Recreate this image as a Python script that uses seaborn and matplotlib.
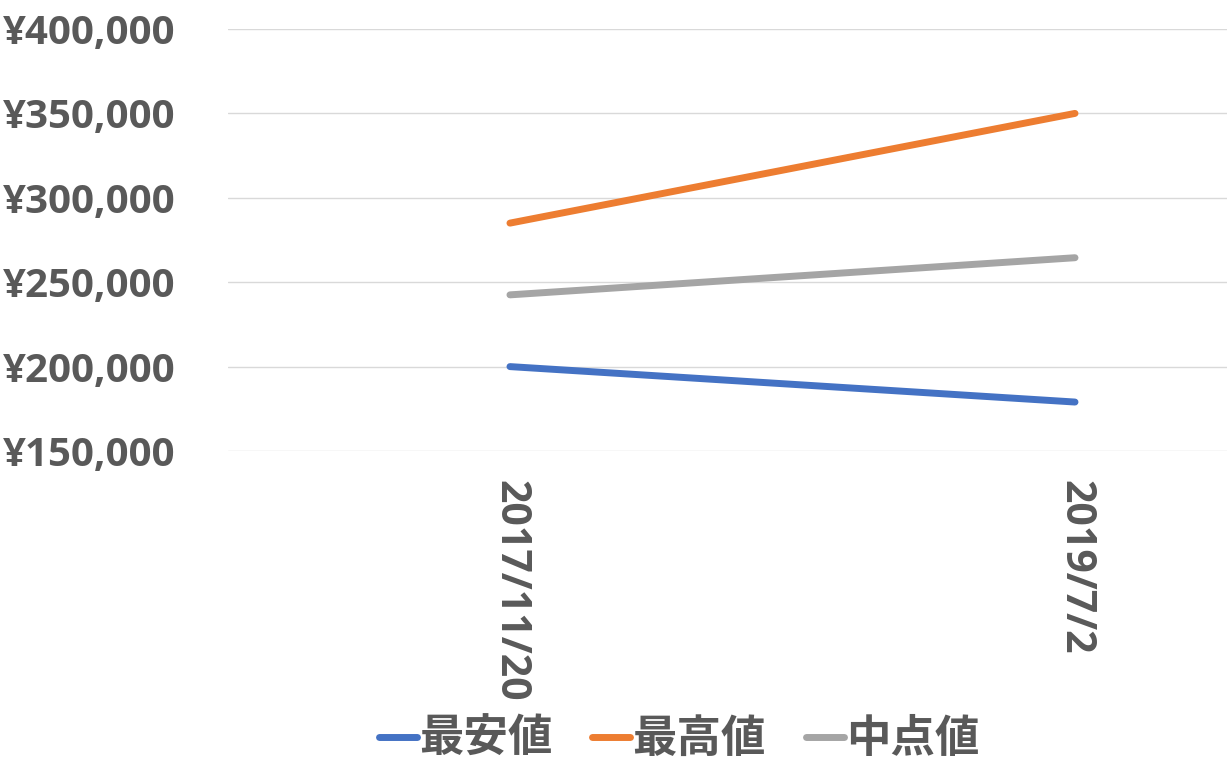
import matplotlib
matplotlib.use("Agg")
import matplotlib.pyplot as plt
import seaborn as sns
import pandas as pd

# データ
dates = ["2017/11/20", "2019/7/2"]
series_names = ["最安値", "最高値", "中点値"]
low_values = [200000, 179000]
high_values = [285000, 350000]
mid_values = [242500, 264500]
y_ticks = [150000, 200000, 250000, 300000, 350000, 400000]

colors = ["#4472C4", "#ED7D31", "#A5A5A5"]
text_color = "#595959"

sns.set_theme(style="white")
plt.rcParams['font.family'] = ['Open Sans', 'Noto Sans CJK JP', 'DejaVu Sans']
plt.rcParams['font.weight'] = 'bold'

df = pd.DataFrame({
    "date": dates * 3,
    "pos": [0, 1] * 3,
    "series": [s for s in series_names for _ in dates],
    "value": low_values + high_values + mid_values,
})

fig = plt.figure(figsize=(12.27, 7.76), dpi=100)
ax = fig.add_axes([228 / 1227, 1 - 451 / 776, 1 - 228 / 1227, (451 - 29) / 776])

sns.lineplot(data=df, x="pos", y="value", hue="series", hue_order=series_names,
             palette=colors, linewidth=5, ax=ax, legend=False,
             solid_capstyle="round")

ax.set_xlim(-0.499, 1.269)
ax.set_ylim(150000, 400000)
ax.set_yticks(y_ticks)
ax.set_yticklabels([f"¥{v:,}" for v in y_ticks])
ax.set_xticks([0, 1])
ax.set_xticklabels(dates, rotation=270, va="top", ha="center")
ax.set_xlabel("")
ax.set_ylabel("")
ax.yaxis.grid(True, color="#D9D9D9", linewidth=1)
ax.xaxis.grid(False)
for sp in ax.spines.values():
    sp.set_visible(False)
ax.tick_params(axis="y", length=0, pad=38, labelsize=29, labelcolor=text_color)
ax.tick_params(axis="x", length=0, pad=21, labelsize=29.5, labelcolor=text_color)
for lab in ax.get_xticklabels() + ax.get_yticklabels():
    lab.set_fontweight("bold")

handles = [plt.Line2D([], [], color=c, linewidth=5, solid_capstyle="round") for c in colors]
leg = fig.legend(handles, series_names, loc="lower center", ncol=3,
                 bbox_to_anchor=(679 / 1227, -0.035), frameon=False,
                 handlelength=0.85, handletextpad=0.05, columnspacing=0.9,
                 prop={"size": 32, "weight": "bold"})
for t in leg.get_texts():
    t.set_color(text_color)

fig.savefig("out.png", dpi=100)
